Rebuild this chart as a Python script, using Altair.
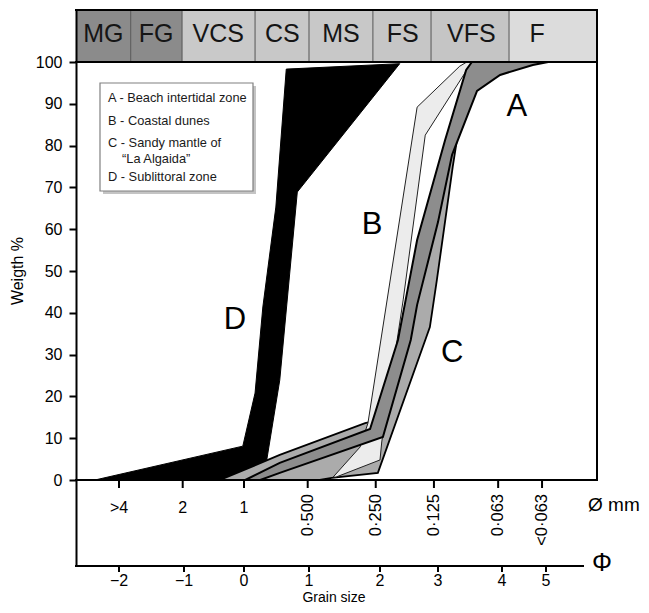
import altair as alt
import pandas as pd

FONT = "Liberation Sans"

# ---------------- values ----------------
phi_ticks = [-2, -1, 0, 1, 2, 3, 4, 5]
phi_labels = ["\u22122", "\u22121", "0", "1", "2", "3", "4", "5"]
mm_tick_phi = [-2, -1.02, 0, 0.98, 1.94, 2.93, 3.94, 4.91]
mm_labels = [">4", "2", "1", "0\u00b7500", "0\u00b7250", "0\u00b7125", "0\u00b7063", "<0\u00b7063"]
y_ticks = [0, 10, 20, 30, 40, 50, 60, 70, 80, 90, 100]

classes = ["MG", "FG", "VCS", "CS", "MS", "FS", "VFS", "F"]
class_lo = [-2.66, -1.82, -1.03, 0.17, 1.00, 1.90, 2.88, 4.16]
class_hi = [-1.82, -1.03, 0.17, 1.00, 1.90, 2.88, 4.16, 6.16]
class_label_phi = [-2.24, -1.43, -0.43, 0.59, 1.45, 2.39, 3.52, 4.80]

# envelopes (phi, weight %), traced around each polygon
D_phi = [-2.37, -0.02, 0.17, 0.29, 0.49, 0.65, 2.34, 0.82, 0.55, 0.35, 0.09]
D_pct = [0, 8.1, 20.8, 41.4, 65.3, 98.3, 99.6, 68.9, 23.9, 4.8, 0]

C_phi = [-0.40, 0.55, 1.79, 2.00, 2.41, 2.74, 3.16, 3.47, 3.53,
         3.84, 3.45, 3.23, 2.98, 2.86, 1.97, 1.32, 1.13]
C_pct = [0, 6.0, 13.6, 14.4, 33.5, 57.4, 78.9, 98.6, 100,
         100, 96.4, 74.9, 47.8, 36.6, 1.7, 0.5, 0]

B_phi = [1.34, 1.72, 1.83, 2.64, 3.34, 3.45, 3.53, 2.78, 2.40, 2.03, 2.00, 1.38]
B_pct = [0.7, 7.9, 13.6, 89.2, 99.0, 100, 100, 82.5, 43.1, 9.1, 4.8, 0.7]

A_phi = [0.02, 0.55, 1.86, 2.31, 2.64, 3.11, 3.44, 3.53, 5.05, 4.70, 3.97, 3.61, 3.22, 3.00,
         2.64, 2.53, 2.05, 0.55, 0.25]
A_pct = [0, 4.1, 12.2, 33.5, 57.4, 81.3, 98.1, 100, 100, 99.3, 96.9, 93.1, 77.8, 61.7,
         41.9, 33.5, 10.3, 1.7, 0]

zones = ["A", "B", "C", "D"]
zone_label_phi = [4.34, 1.89, 3.22, -0.15]
zone_label_pct = [89.2, 61.0, 30.4, 38.3]

legend_lines = ["A - Beach intertidal zone", "B - Coastal dunes", "C - Sandy mantle of",
                "\u201cLa Algaida\u201d", "D - Sublittoral zone"]

# ---------------- layout ----------------
W, H = 521, 556
xscale = alt.Scale(domain=phi_ticks, range=[43, 108, 168, 233, 304, 362, 426, 470],
                   zero=False, nice=False)
yscale = alt.Scale(domain=[-20.57, 112.44], zero=False, nice=False)
yaxis = alt.Axis(values=y_ticks, title=None, tickSize=7, tickWidth=2, domainWidth=2,
                 domainColor="black", tickColor="black", labelColor="black",
                 labelFont=FONT, labelFontSize=16, labelPadding=7, grid=False, zindex=1)

one = pd.DataFrame({"k": [0]})


def hrule(x1, x2, y, color="black", w=2):
    return alt.Chart(one).mark_rule(color=color, strokeWidth=w, strokeCap="square").encode(
        x=alt.value(x1), x2=alt.value(x2), y=alt.value(y))


def vrule(x, y1, y2, color="black", w=2):
    return alt.Chart(one).mark_rule(color=color, strokeWidth=w, strokeCap="square").encode(
        x=alt.value(x), y=alt.value(y1), y2=alt.value(y2))


def txt(s, x, y, size, color="black", **kw):
    return alt.Chart(one).mark_text(text=s, fontSize=size, font=FONT, color=color, **kw).encode(
        x=alt.value(x), y=alt.value(y))


def polygon(phis, pcts, fill, stroke, sw):
    df = pd.DataFrame({"phi": phis + [phis[0]], "pct": pcts + [pcts[0]],
                       "i": list(range(len(phis) + 1))})
    return alt.Chart(df).mark_line(fill=fill, stroke=stroke, strokeWidth=sw,
                                   strokeJoin="miter").encode(
        x=alt.X("phi:Q", scale=xscale, axis=None),
        y=alt.Y("pct:Q", scale=yscale, axis=yaxis),
        order="i:Q")


band_df = pd.DataFrame({"cls": classes, "lo": class_lo, "hi": class_hi, "lx": class_label_phi})
band_colors = ["#8b8b8b", "#8b8b8b", "#c9c9c9", "#c8c8c8", "#c8c8c8", "#c6c6c6", "#c5c5c5", "#dcdcdc"]

bands = alt.Chart(band_df).mark_rect().encode(
    x=alt.X("lo:Q", scale=xscale, axis=None), x2="hi:Q",
    y=alt.value(0), y2=alt.value(52),
    color=alt.Color("cls:N", scale=alt.Scale(domain=classes, range=band_colors), legend=None))
band_seps = alt.Chart(band_df.iloc[1:]).mark_rule(color="#555555", strokeWidth=1).encode(
    x=alt.X("lo:Q", scale=xscale, axis=None), y=alt.value(0), y2=alt.value(52))
band_text = alt.Chart(band_df).mark_text(font=FONT, fontSize=25, color="#151515",
                                         baseline="alphabetic").encode(
    x=alt.X("lx:Q", scale=xscale, axis=None), y=alt.value(32), text="cls:N")

legend_shadow = alt.Chart(one).mark_rect(fill="#c4c4c4").encode(
    x=alt.value(27), x2=alt.value(180), y=alt.value(76), y2=alt.value(184))
legend_box = alt.Chart(one).mark_rect(fill="white", stroke="#808080", strokeWidth=1.2).encode(
    x=alt.value(24), x2=alt.value(177), y=alt.value(73), y2=alt.value(181))
legend_pos = [(32, 88), (32, 111), (32, 133), (46, 149), (32, 167)]
legend_txt = [txt(s, px, py, 12.8, color="#1a1a1a", align="left", baseline="middle")
              for s, (px, py) in zip(legend_lines, legend_pos)]

polyD = polygon(D_phi, D_pct, "#000000", "#000000", 1)
polyC = polygon(C_phi, C_pct, "#ababab", "#000000", 1.8)
polyB = polygon(B_phi, B_pct, "#ececec", "#222222", 1)
polyA = polygon(A_phi, A_pct, "#8d8d8d", "#000000", 2)

zone_df = pd.DataFrame({"z": zones, "phi": zone_label_phi, "pct": zone_label_pct})
zone_text = alt.Chart(zone_df).mark_text(font=FONT, fontSize=31, color="black",
                                         baseline="middle").encode(
    x=alt.X("phi:Q", scale=xscale, axis=None),
    y=alt.Y("pct:Q", scale=yscale, axis=yaxis), text="z:N")

mm_df = pd.DataFrame({"phi": mm_tick_phi, "lab": mm_labels})
mm_ticks = alt.Chart(mm_df).mark_rule(color="black", strokeWidth=2).encode(
    x=alt.X("phi:Q", scale=xscale, axis=None), y=alt.value(470), y2=alt.value(478))
mm_h = alt.Chart(mm_df.iloc[:3]).mark_text(font=FONT, fontSize=16, color="black",
                                           baseline="middle").encode(
    x=alt.X("phi:Q", scale=xscale, axis=None), y=alt.value(498), text="lab:N")
mm_v = alt.Chart(mm_df.iloc[3:]).mark_text(font=FONT, fontSize=16.5, color="black", angle=270,
                                           align="right", baseline="middle").encode(
    x=alt.X("phi:Q", scale=xscale, axis=None), y=alt.value(484), text="lab:N")

phi_df = pd.DataFrame({"phi": phi_ticks, "lab": phi_labels})
phi_tk = alt.Chart(phi_df).mark_rule(color="black", strokeWidth=2).encode(
    x=alt.X("phi:Q", scale=xscale, axis=None), y=alt.value(556), y2=alt.value(562))
phi_tx = alt.Chart(phi_df).mark_text(font=FONT, fontSize=16, color="black",
                                     baseline="middle").encode(
    x=alt.X("phi:Q", scale=xscale, axis=None), y=alt.value(570.5), text="lab:N")

frame = [
    hrule(0, W, 0),        # band top
    hrule(0, W, 52),       # plot top
    vrule(W, 0, 470),      # right side
    hrule(0, W, 470),      # zero line
    hrule(0, 507, 556),    # phi axis
]

titles = [
    txt("Weigth %", -58, 261, 16, angle=270, align="center", baseline="middle"),
    txt("Grain size", 258, 588, 14, align="center", baseline="middle"),
    txt("\u00d8 mm", 512, 495, 19, align="left", baseline="middle"),
    txt("\u03a6", 526, 553, 25, align="center", baseline="middle"),
]

chart = alt.layer(
    bands, band_seps, band_text,
    legend_shadow, legend_box, *legend_txt,
    polyD, polyC, polyB, polyA, zone_text,
    *frame, mm_ticks, mm_h, mm_v, phi_tk, phi_tx, *titles,
).properties(
    width=W, height=H,
    autosize=alt.AutoSizeParams(type="none"),
    padding={"left": 68, "top": 2, "right": 44, "bottom": 39},
    background="white",
).configure_view(stroke=None)

chart.save("out.html", embed_options={"renderer": "svg", "actions": False})
